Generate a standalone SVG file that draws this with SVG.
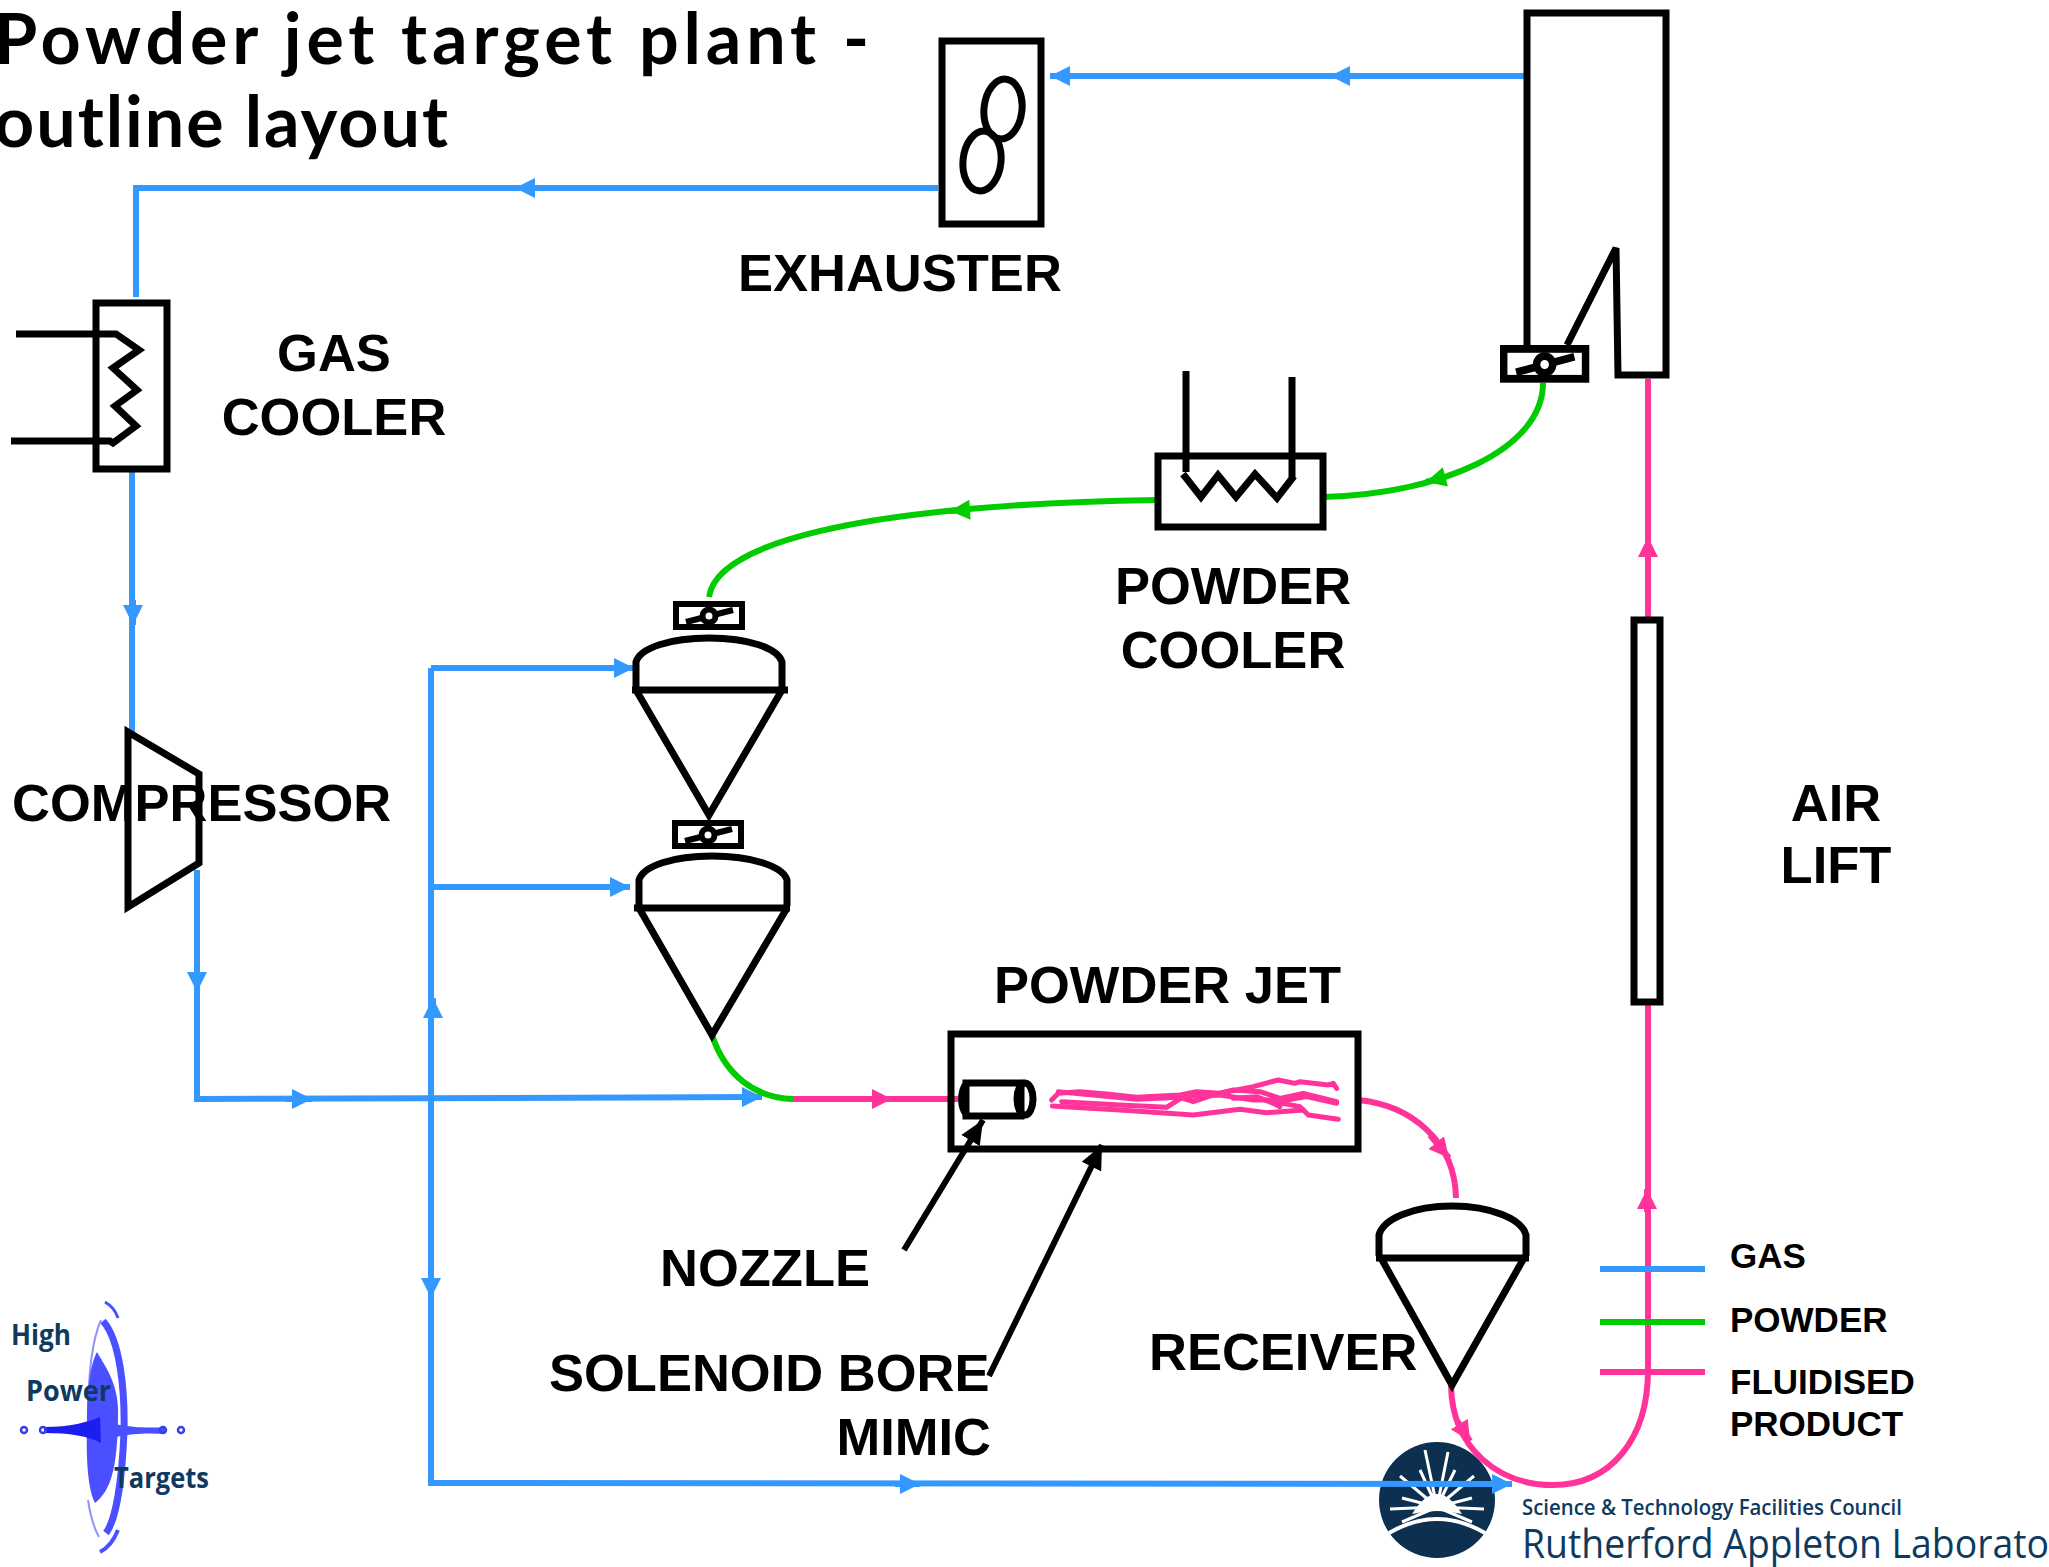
<svg xmlns="http://www.w3.org/2000/svg" width="2049" height="1567" viewBox="0 0 2049 1567">
<style>
.k{fill:none;stroke:#000;stroke-width:7}
.kt{fill:none;stroke:#000;stroke-width:6}
.b{fill:none;stroke:#3399ff;stroke-width:6}
.g{fill:none;stroke:#00cc00;stroke-width:6}
.p{fill:none;stroke:#ff3399;stroke-width:6}
.j{fill:none;stroke:#ff3399;stroke-width:15;stroke-linejoin:round;stroke-linecap:round}
.lb{font-family:"Liberation Sans",Arial,sans-serif;font-weight:700;font-size:52.5px;fill:#000}
.ls{font-family:"Liberation Sans",Arial,sans-serif;font-weight:700;font-size:35px;fill:#000}
.title{font-family:"Lato","Open Sans",sans-serif;font-weight:700;font-size:70px;fill:#000}
.logo{font-family:"Open Sans","Noto Sans",sans-serif;fill:#0f3a5f}
</style>
<defs>
<marker id="ab" markerUnits="userSpaceOnUse" viewBox="0 0 20 20" markerWidth="22" markerHeight="20" refX="20" refY="10" orient="auto"><path d="M0,0L20,10L0,20z" fill="#3399ff"/></marker>
<marker id="amb" markerUnits="userSpaceOnUse" viewBox="0 0 20 20" markerWidth="20" markerHeight="20" refX="20" refY="10" orient="auto"><path d="M0,0L20,10L0,20z" fill="#3399ff"/></marker>
<marker id="ag" markerUnits="userSpaceOnUse" viewBox="0 0 20 20" markerWidth="22" markerHeight="20" refX="20" refY="10" orient="auto"><path d="M0,0L20,10L0,20z" fill="#00cc00"/></marker>
<marker id="ap" markerUnits="userSpaceOnUse" viewBox="0 0 20 20" markerWidth="20" markerHeight="20" refX="20" refY="10" orient="auto"><path d="M0,0L20,10L0,20z" fill="#ff3399"/></marker>
<marker id="ak" markerUnits="userSpaceOnUse" viewBox="0 0 20 20" markerWidth="24" markerHeight="24" refX="20" refY="10" orient="auto"><path d="M0,1L20,10L0,19z" fill="#000"/></marker>
<g id="valve"><rect x="3" y="3" width="66" height="23" fill="none" stroke="#000" stroke-width="6"/><path d="M13,21L60,9" fill="none" stroke="#000" stroke-width="6"/><circle cx="36" cy="15" r="6.5" fill="#fff" stroke="#000" stroke-width="6"/></g>
</defs>
<rect width="2049" height="1567" fill="#fff"/>

<g id="logo-hpt">
<path d="M103,1321C120,1340 125,1390 124,1432C122,1480 116,1520 106,1533" fill="none" stroke="#4a50ff" stroke-width="7"/>
<path d="M105,1302C112,1306 116,1312 118,1318" fill="none" stroke="#4a50ff" stroke-width="3"/>
<path d="M100,1552C108,1548 114,1540 118,1530" fill="none" stroke="#4a50ff" stroke-width="4"/>
<path d="M101,1320C92,1340 88,1370 88,1420" fill="none" stroke="#8f93ff" stroke-width="2"/>
<path d="M88,1500C91,1520 95,1530 99,1537" fill="none" stroke="#8f93ff" stroke-width="2"/>
<path d="M97,1352C106,1368 120,1385 118,1420C117,1465 112,1490 95,1503C88,1490 86,1460 87,1425C87,1390 90,1365 97,1352z" fill="#4a50ff"/>
<path d="M44,1427C70,1427 88,1422 100,1417L101,1443C88,1436 70,1433 44,1433z" fill="#1c1ef0"/>
<path d="M115,1424C135,1428 150,1428 165,1427L165,1434C150,1433 135,1433 115,1437z" fill="#4a50ff"/>
<circle cx="24" cy="1430" r="3" fill="none" stroke="#3a3ee8" stroke-width="2.5"/><circle cx="43" cy="1430" r="3" fill="none" stroke="#3a3ee8" stroke-width="2.5"/><circle cx="163" cy="1430" r="3" fill="none" stroke="#3a3ee8" stroke-width="2.5"/><circle cx="181" cy="1430" r="3" fill="none" stroke="#3a3ee8" stroke-width="2.5"/>
<text x="11" y="1345" class="logo" font-size="29" font-weight="700" textLength="60" lengthAdjust="spacingAndGlyphs">High</text>
<text x="26" y="1401" class="logo" font-size="29" font-weight="700" textLength="85" lengthAdjust="spacingAndGlyphs">Power</text>
<text x="114" y="1488" class="logo" font-size="29" font-weight="700" textLength="95" lengthAdjust="spacingAndGlyphs">Targets</text>
</g>

<g id="logo-ral">
<ellipse cx="1437" cy="1500" rx="58" ry="58" fill="#0e3050"/>
<path d="M1437,1507L1425,1450M1437,1507L1448,1452M1437,1507L1400,1476M1437,1507L1474,1476M1437,1507L1420,1470M1437,1507L1455,1470M1437,1507L1402,1498M1437,1507L1472,1498M1437,1507L1390,1509M1437,1507L1484,1509M1437,1507L1402,1522M1437,1507L1472,1522" stroke="#fff" stroke-width="3" fill="none"/>
<path d="M1412,1514Q1437,1474 1462,1514Q1437,1508 1412,1514z" fill="#fff"/>
<path d="M1389,1533Q1437,1505 1485,1533" fill="none" stroke="#fff" stroke-width="4"/>
<text x="1522" y="1515" class="logo" font-size="22" font-weight="600" textLength="380" lengthAdjust="spacingAndGlyphs">Science &amp; Technology Facilities Council</text>
<text x="1522" y="1558" class="logo" font-size="41" textLength="527" lengthAdjust="spacingAndGlyphs">Rutherford Appleton Laborato</text>
</g>

<g id="connectors">
<path class="b" d="M1526,76L1050,76" marker-end="url(#ab)"/>
<path class="b" d="M1345,76L1330,76" marker-end="url(#amb)"/>
<path class="b" d="M938,188L136,188L136,297"/>
<path class="b" d="M530,188L515,188" marker-end="url(#amb)"/>
<path class="b" d="M132,470L132,735"/>
<path class="b" d="M133,600L133,625" marker-end="url(#amb)"/>
<path class="b" d="M197,870L197,1099L762,1097" marker-end="url(#ab)"/>
<path class="b" d="M197,970L197,992" marker-end="url(#amb)"/>
<path class="b" d="M285,1099L312,1099" marker-end="url(#amb)"/>
<path class="b" d="M431,668L431,1483L1512,1484" marker-end="url(#ab)"/>
<path class="b" d="M431,668L634,668" marker-end="url(#ab)"/>
<path class="b" d="M431,887L630,887" marker-end="url(#ab)"/>
<path class="b" d="M433,1018L433,998" marker-end="url(#amb)"/>
<path class="b" d="M431,1278L431,1298" marker-end="url(#amb)"/>
<path class="b" d="M895,1484L920,1484" marker-end="url(#amb)"/>
<path class="g" d="M709,597C716,545 850,505 1157,500"/>
<path class="g" d="M965,510L950,511" marker-end="url(#ag)"/>
<path class="g" d="M1323,497C1440,494 1543,450 1543,383"/>
<path class="g" d="M1445,477L1426,482" marker-end="url(#ag)"/>
<path class="g" d="M712,1035C725,1075 755,1098 793,1099"/>
<path class="p" d="M793,1099L958,1099"/>
<path class="p" d="M870,1099L892,1099" marker-end="url(#ap)"/>
<path class="p" d="M1358,1100C1410,1105 1455,1140 1456,1198"/>
<path class="p" d="M1430,1135L1449,1158" marker-end="url(#ap)"/>
<path class="p" d="M1648,379L1648,618"/>
<path class="p" d="M1648,560L1648,537" marker-end="url(#ap)"/>
<path class="p" d="M1451,1385C1452,1450 1500,1485 1553,1485C1610,1485 1648,1440 1648,1370L1648,1003"/>
<path class="p" d="M1647,1212L1647,1189" marker-end="url(#ap)"/>
<path class="p" d="M1458,1422L1470,1441" marker-end="url(#ap)"/>
<path class="kt" d="M904,1250L983,1120" marker-end="url(#ak)"/>
<path class="kt" d="M989,1376L1102,1145" marker-end="url(#ak)"/>
</g>

<g id="exhauster">
<rect x="942" y="41" width="99" height="183" class="k"/>
<ellipse cx="1003" cy="109" rx="19" ry="30" transform="rotate(6 1003 109)" class="k"/>
<ellipse cx="982" cy="161" rx="19" ry="30" transform="rotate(6 982 161)" class="k"/>
</g>
<g id="gas-cooler">
<rect x="96" y="303" width="71" height="166" class="k"/>
<path class="k" d="M16,334L116,334L139,350L113,368L137,390L115,406L136,426L113,443L110,441L11,441"/>
</g>
<g id="compressor"><path class="k" d="M128,732L199,774L199,863L128,907z"/></g>
<g id="powder-cooler">
<rect x="1158" y="456" width="165" height="71" class="k"/>
<path class="k" d="M1186,371L1186,472"/><path class="k" d="M1292,377L1292,477"/>
<path class="k" d="M1183,474L1201,497L1218,475L1236,497L1255,474L1277,498L1294,476"/>
</g>
<g id="cyclone">
<path class="k" d="M1527,345L1527,13L1666,13L1666,375L1618,375L1616,248L1567,345"/>
<use href="#valve" transform="translate(1500,345) scale(1.24,1.3)"/>
</g>
<g id="lock-hopper-upper">
<use href="#valve" x="673" y="601"/>
<path class="k" d="M636,688L636,662C640,648 670,638 709,638C748,638 778,648 782,662L782,688"/>
<path class="k" d="M632,690L788,690"/>
<path class="k" d="M636,690L709,815L782,690"/>
</g>
<g id="lock-hopper-lower">
<use href="#valve" x="672" y="820"/>
<path class="k" d="M639,906L639,880C643,866 673,856 712,856C751,856 783,866 787,880L787,906"/>
<path class="k" d="M634,908L790,908"/>
<path class="k" d="M639,908L712,1035L787,908"/>
</g>
<g id="powder-jet">
<rect x="951" y="1034" width="407" height="115" class="k"/>
<rect x="966" y="1083" width="55" height="33" class="k"/>
<ellipse cx="1025" cy="1099" rx="8" ry="16" class="k"/>
<path d="M966,1080C956,1085 955,1112 966,1118z" fill="#000"/>
<g transform="translate(920,1020) scale(.3333)">
<path class="j" d="M395,240L415,220L480,215L560,222L650,232L780,225L830,215L900,220L1000,200L1075,180L1125,190L1140,185L1225,195L1240,190L1250,205"/>
<path class="j" d="M415,215L520,225L650,238L780,232L820,245L880,225L940,210L1020,215L1080,235L1150,220L1250,245"/>
<path class="j" d="M425,245L600,255L740,262L790,230L900,225L1000,240L1100,240L1160,230L1250,250"/>
<path class="j" d="M397,258L600,270L820,285L960,268L1040,278L1150,270L1165,285L1255,298"/>
<path class="j" d="M940,235L1010,230L1060,250L1080,260L1060,245L1140,260L1150,270"/>
</g>
</g>
<g id="receiver">
<path class="k" d="M1379,1256L1379,1235C1383,1219 1413,1206 1452,1206C1491,1206 1522,1219 1526,1235L1526,1256"/>
<path class="k" d="M1376,1258L1529,1258"/>
<path class="k" d="M1381,1258L1452,1385L1524,1258"/>
</g>
<g id="air-lift"><rect x="1634" y="620" width="26" height="382" class="k"/></g>
<g id="legend">
<path class="b" d="M1600,1269L1705,1269"/>
<path class="g" d="M1600,1322L1705,1322"/>
<path class="p" d="M1600,1372L1705,1372"/>
<text x="1730" y="1268" class="ls">GAS</text>
<text x="1730" y="1332" class="ls">POWDER</text>
<text x="1730" y="1394" class="ls">FLUIDISED</text>
<text x="1730" y="1436" class="ls">PRODUCT</text>
</g>
<g id="labels">
<text x="-6" y="64" class="title" textLength="875" lengthAdjust="spacing">Powder jet target plant -</text>
<text x="-6" y="147" class="title" textLength="454" lengthAdjust="spacing">outline layout</text>
<text x="738" y="291" class="lb">EXHAUSTER</text>
<text x="334" y="371" class="lb" text-anchor="middle">GAS</text>
<text x="334" y="435" class="lb" text-anchor="middle">COOLER</text>
<text x="1233" y="604" class="lb" text-anchor="middle">POWDER</text>
<text x="1233" y="668" class="lb" text-anchor="middle">COOLER</text>
<text x="12" y="821" class="lb">COMPRESSOR</text>
<text x="1836" y="821" class="lb" text-anchor="middle">AIR</text>
<text x="1836" y="883" class="lb" text-anchor="middle">LIFT</text>
<text x="994" y="1003" class="lb">POWDER JET</text>
<text x="660" y="1286" class="lb">NOZZLE</text>
<text x="549" y="1391" class="lb">SOLENOID BORE</text>
<text x="991" y="1455" class="lb" text-anchor="end">MIMIC</text>
<text x="1149" y="1370" class="lb">RECEIVER</text>
</g>
</svg>
